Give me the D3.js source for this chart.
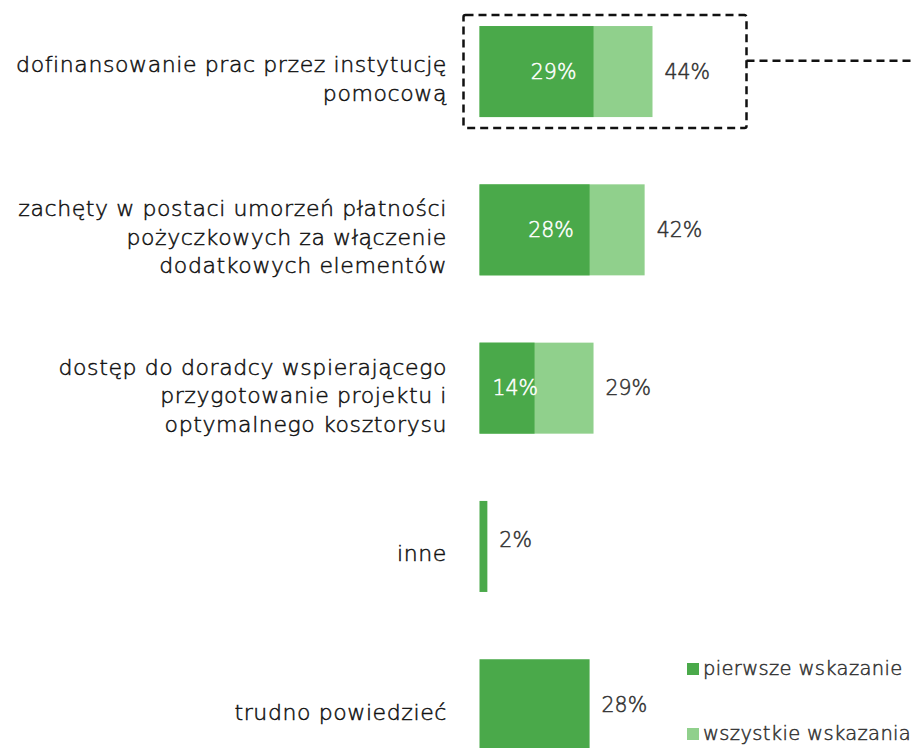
<!DOCTYPE html>
<html>
<head>
<meta charset="utf-8">
<script src="https://cdn.jsdelivr.net/npm/d3@7"></script>
<style>
  body { margin: 0; background: #fff; }
  svg { display: block; font-family: "DejaVu Sans", sans-serif; font-weight: 200; }
  text { stroke-width: 0.5px; paint-order: stroke; }
</style>
</head>
<body>
<div id="chart"></div>
<script>
const categories = [
  ["dofinansowanie prac przez instytucję", "pomocową"],
  ["zachęty w postaci umorzeń płatności", "pożyczkowych za włączenie", "dodatkowych elementów"],
  ["dostęp do doradcy wspierającego", "przygotowanie projektu i", "optymalnego kosztorysu"],
  ["inne"],
  ["trudno powiedzieć"]
];
const firstChoice = [29, 28, 14, 2, 28];
const allChoices = [44, 42, 29, null, null];
const seriesNames = ["pierwsze wskazanie", "wszystkie wskazania"];
const colors = ["#4aa94a", "#90d08c"];

const width = 913, height = 748;
const svg = d3.select("#chart").append("svg")
  .attr("width", width)
  .attr("height", height);

const keys = categories.map((d, i) => i);

const x = d3.scaleLinear().domain([0, 44]).range([479.5, 652.5]);
const y = d3.scaleBand()
  .domain(keys)
  .range([-7.6, 783.9])
  .paddingInner(0.425)
  .paddingOuter(0.2125);

const rows = svg.append("g").selectAll("g")
  .data(keys)
  .join("g");

// light bar (all choices) behind the dark one
rows.filter(i => allChoices[i] != null)
  .append("rect")
  .attr("x", x(0))
  .attr("y", i => y(i))
  .attr("width", i => x(allChoices[i]) - x(0))
  .attr("height", y.bandwidth())
  .attr("fill", colors[1]);

rows.append("rect")
  .attr("x", x(0))
  .attr("y", i => y(i))
  .attr("width", i => x(firstChoice[i]) - x(0))
  .attr("height", y.bandwidth())
  .attr("fill", colors[0]);

// white labels inside the dark bars
rows.filter(i => allChoices[i] != null)
  .append("text")
  .attr("x", i => x(firstChoice[i] * 0.65))
  .attr("y", i => y(i) + y.bandwidth() / 2)
  .attr("text-anchor", "middle")
  .attr("dominant-baseline", "central")
  .attr("font-size", 20.5)
  .attr("fill", "#fff")
  .attr("stroke", "#fff")
  .text(i => firstChoice[i] + "%");

// grey labels after the bar end
rows.append("text")
  .attr("x", i => x(allChoices[i] != null ? allChoices[i] : firstChoice[i]) + 12)
  .attr("y", i => y(i) + y.bandwidth() / 2 - (allChoices[i] == null && firstChoice[i] < 5 ? 6 : 0))
  .attr("dominant-baseline", "central")
  .attr("font-size", 20.5)
  .attr("fill", "#333")
  .attr("stroke", "#333")
  .text(i => (allChoices[i] != null ? allChoices[i] : firstChoice[i]) + "%");

// category labels
const lineH = 28.5;
rows.append("text")
  .attr("text-anchor", "end")
  .attr("font-size", 22)
  .attr("letter-spacing", 0.6)
  .attr("fill", "#111")
  .attr("stroke", "#111")
  .each(function (i) {
    const lines = categories[i];
    const mid = y(i) + y.bandwidth() / 2 + 15;
    d3.select(this).selectAll("tspan")
      .data(lines)
      .join("tspan")
      .attr("x", 447)
      .attr("y", (d, k) => mid + (k - (lines.length - 1) / 2) * lineH)
      .text(d => d);
  });

// dashed highlight box around the first row
const boxX0 = x(0) - 16, boxX1 = x(allChoices[0]) + 94;
const boxY0 = y(0) - 11, boxY1 = y(0) + y.bandwidth() + 11;
svg.append("rect")
  .attr("x", boxX0)
  .attr("y", boxY0)
  .attr("width", boxX1 - boxX0)
  .attr("height", boxY1 - boxY0)
  .attr("rx", 2)
  .attr("fill", "none")
  .attr("stroke", "#111")
  .attr("stroke-width", 2.5)
  .attr("stroke-dasharray", "8 5");

svg.append("path")
  .attr("d", `M${boxX1},${y(0) + y.bandwidth() * 0.38}H${width}`)
  .attr("fill", "none")
  .attr("stroke", "#111")
  .attr("stroke-width", 2.5)
  .attr("stroke-dasharray", "8 5");

// legend
const legend = svg.append("g").selectAll("g")
  .data(seriesNames)
  .join("g")
  .attr("transform", (d, k) => `translate(687,${663 + k * 65})`);

legend.append("rect")
  .attr("width", 12)
  .attr("height", 12)
  .attr("fill", (d, k) => colors[k]);

legend.append("text")
  .attr("x", 16)
  .attr("y", 12)
  .attr("font-size", 19.5)
  .attr("letter-spacing", 0.35)
  .attr("fill", "#333")
  .attr("stroke", "#333")
  .text(d => d);
</script>
</body>
</html>
